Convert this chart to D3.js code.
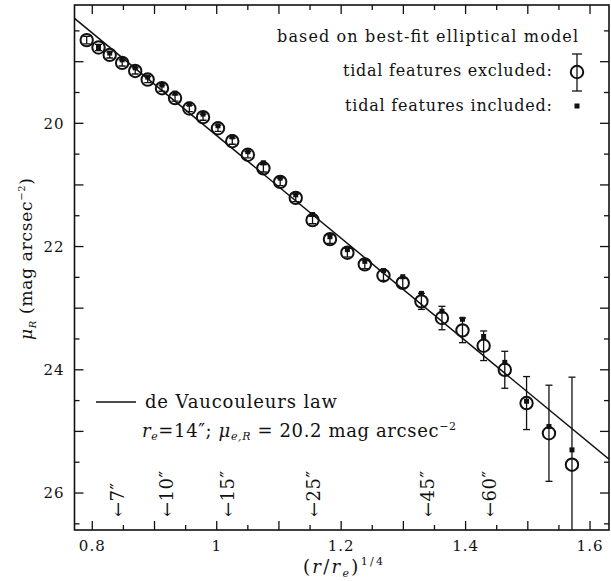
<!DOCTYPE html>
<html>
<head>
<meta charset="utf-8">
<script src="https://cdn.jsdelivr.net/npm/d3@7"></script>
<style>
  body { margin: 0; background: #fff; }
  svg text { font-family: "DejaVu Serif", serif; fill: #111; }
</style>
</head>
<body>
<div id="chart"></div>
<script>
// (r/re)^1/4 of each annulus
var radii = [0.791, 0.810, 0.828, 0.848, 0.869, 0.889, 0.912, 0.933, 0.956, 0.978,
             1.002, 1.025, 1.050, 1.075, 1.102, 1.127, 1.154, 1.182, 1.210, 1.238,
             1.268, 1.299, 1.329, 1.362, 1.395, 1.429, 1.463, 1.498, 1.534, 1.571];
// tidal features excluded (circles)
var muExcl = [18.65, 18.77, 18.89, 19.02, 19.15, 19.29, 19.43, 19.59, 19.76, 19.90,
              20.08, 20.29, 20.51, 20.73, 20.95, 21.21, 21.57, 21.88, 22.10, 22.29,
              22.47, 22.59, 22.89, 23.16, 23.36, 23.61, 24.00, 24.54, 25.03, 25.54];
var errExcl = [0.06, 0.05, 0.05, 0.05, 0.05, 0.05, 0.05, 0.05, 0.05, 0.05,
               0.05, 0.05, 0.05, 0.06, 0.06, 0.06, 0.06, 0.07, 0.07, 0.07,
               0.08, 0.08, 0.13, 0.19, 0.20, 0.24, 0.30, 0.43, 0.78, 1.42];
// tidal features included (filled squares)
var muIncl = [null, 18.77, 18.86, 18.97, 19.10, 19.25, 19.38, 19.51, 19.69, 19.85,
              20.04, 20.22, 20.46, 20.64, 20.89, 21.16, 21.48, 21.84, 22.05, 22.24,
              22.39, 22.49, 22.76, 23.05, 23.18, 23.46, 23.88, 24.51, 24.92, 25.30];
// de Vaucouleurs law, end points of the drawn line
var lawX = [0.7714, 1.6305];
var lawMu = [18.297, 25.45];
// radius markers (arcsec) and their positions
var markerLabels = ["7″", "10″", "15″", "25″", "45″", "60″"];
var markerX = [0.841, 0.919, 1.017, 1.156, 1.339, 1.439];
var xTicks = [0.8, 1, 1.2, 1.4, 1.6];
var yTicks = [20, 22, 24, 26];

var W = 611, H = 581;
var margin = {top: 5, right: 2, bottom: 51, left: 74.5};
var width = W - margin.left - margin.right;
var height = H - margin.top - margin.bottom;

var x = d3.scaleLinear().domain([0.7714, 1.6305]).range([0, width]);
var y = d3.scaleLinear().domain([18.08, 26.6]).range([0, height]);

var svg = d3.select('#chart').append('svg')
    .attr('width', W).attr('height', H);
var g = svg.append('g')
    .attr('transform', 'translate(' + margin.left + ',' + margin.top + ')');

var clip = svg.append('clipPath').attr('id', 'plotclip');
clip.append('rect').attr('width', width).attr('height', height);

// frame
g.append('rect')
    .attr('width', width).attr('height', height)
    .attr('fill', 'none').attr('stroke', '#111').attr('stroke-width', 1.6);

// ticks pointing inward on all four sides
var xMinor = d3.range(0.80, 1.63, 0.05);
var yMinor = d3.range(18.5, 26.6, 0.5);
function isMajor(v, step) { return Math.abs(v / step - Math.round(v / step)) < 1e-6; }

var tk = g.append('g').attr('stroke', '#111').attr('stroke-width', 1.3);
xMinor.forEach(function(v) {
    var len = isMajor(v, 0.1) ? 9 : 5;
    tk.append('line').attr('x1', x(v)).attr('x2', x(v)).attr('y1', height).attr('y2', height - len);
    tk.append('line').attr('x1', x(v)).attr('x2', x(v)).attr('y1', 0).attr('y2', len);
});
yMinor.forEach(function(v) {
    var len = isMajor(v, 1) ? 9 : 5;
    tk.append('line').attr('y1', y(v)).attr('y2', y(v)).attr('x1', 0).attr('x2', len);
    tk.append('line').attr('y1', y(v)).attr('y2', y(v)).attr('x1', width).attr('x2', width - len);
});

// tick labels
g.append('g').selectAll('text').data(xTicks).enter().append('text')
    .attr('x', function(d) { return x(d); })
    .attr('y', height + 21)
    .attr('text-anchor', 'middle')
    .attr('font-size', 15)
    .attr('letter-spacing', 1)
    .text(function(d) { return d === 1 ? '1' : d3.format('.1f')(d); });

g.append('g').selectAll('text').data(yTicks).enter().append('text')
    .attr('x', -10)
    .attr('y', function(d) { return y(d); })
    .attr('dy', '0.36em')
    .attr('text-anchor', 'end')
    .attr('font-size', 15)
    .attr('letter-spacing', 1)
    .text(function(d) { return d; });

// axis titles
var xl = g.append('text')
    .attr('x', 303 - margin.left).attr('y', height + 43)
    .attr('font-size', 18)
    .attr('textLength', 80);
xl.append('tspan').text('(');
xl.append('tspan').attr('font-style', 'italic').text('r');
xl.append('tspan').text('/');
xl.append('tspan').attr('font-style', 'italic').text('r');
xl.append('tspan').attr('font-style', 'italic').attr('font-size', 11).attr('dy', 4).text('e');
xl.append('tspan').attr('dy', -4).text(')');
xl.append('tspan').attr('font-size', 11).attr('dy', -8).text('1/4');

var yl = svg.append('text')
    .attr('transform', 'translate(32,340) rotate(-90)')
    .attr('font-size', 17)
    .attr('textLength', 162);
yl.append('tspan').attr('font-style', 'italic').text('μ');
yl.append('tspan').attr('font-style', 'italic').attr('font-size', 10).attr('dy', 4).text('R');
yl.append('tspan').attr('dy', -4).text(' (mag arcsec');
yl.append('tspan').attr('font-size', 10).attr('dy', -7).text('−2');
yl.append('tspan').attr('dy', 7).text(')');

var plot = g.append('g').attr('clip-path', 'url(#plotclip)');

// de Vaucouleurs line
plot.append('path')
    .datum(lawX.map(function(v, i) { return [v, lawMu[i]]; }))
    .attr('fill', 'none').attr('stroke', '#111').attr('stroke-width', 1.5)
    .attr('d', d3.line().x(function(d) { return x(d[0]); }).y(function(d) { return y(d[1]); }));

var pts = radii.map(function(r, i) {
    return {x: r, mu: muExcl[i], err: errExcl[i], inc: muIncl[i]};
});

// error bars
var eb = plot.append('g').attr('stroke', '#111').attr('stroke-width', 1.3);
pts.forEach(function(d) {
    var cx = x(d.x);
    eb.append('line').attr('x1', cx).attr('x2', cx)
        .attr('y1', y(d.mu - d.err)).attr('y2', y(d.mu + d.err));
    [d.mu - d.err, d.mu + d.err].forEach(function(v) {
        eb.append('line').attr('x1', cx - 3.5).attr('x2', cx + 3.5)
            .attr('y1', y(v)).attr('y2', y(v));
    });
});

// circles
plot.append('g').selectAll('circle').data(pts).enter().append('circle')
    .attr('cx', function(d) { return x(d.x); })
    .attr('cy', function(d) { return y(d.mu); })
    .attr('r', 6.2)
    .attr('fill', 'none').attr('stroke', '#111').attr('stroke-width', 2);

// squares
var sq = 5;
plot.append('g').selectAll('rect').data(pts.filter(function(d) { return d.inc !== null; }))
    .enter().append('rect')
    .attr('x', function(d) { return x(d.x) - sq / 2; })
    .attr('y', function(d) { return y(d.inc) - sq / 2; })
    .attr('width', sq).attr('height', sq)
    .attr('fill', '#111');

// radius markers
g.append('g').selectAll('text').data(markerX).enter().append('text')
    .attr('transform', function(d) { return 'translate(' + x(d) + ',' + (height - 13) + ') rotate(-90)'; })
    .attr('dy', '0.36em')
    .attr('font-size', 18)
    .attr('letter-spacing', 0.5)
    .text(function(d, i) { return '←' + markerLabels[i]; });

// legend, upper right
var lg = svg.append('g');
lg.append('text').attr('x', 277).attr('y', 42).attr('font-size', 16)
    .attr('textLength', 301).text('based on best-fit elliptical model');
lg.append('text').attr('x', 343).attr('y', 76).attr('font-size', 16)
    .attr('textLength', 209).text('tidal features excluded:');
lg.append('text').attr('x', 345).attr('y', 111).attr('font-size', 16)
    .attr('textLength', 207).text('tidal features included:');
var lx = 577, ly = 72;
lg.append('line').attr('x1', lx).attr('x2', lx).attr('y1', ly - 18).attr('y2', ly + 19)
    .attr('stroke', '#111').attr('stroke-width', 1.3);
[ly - 18, ly + 19].forEach(function(v) {
    lg.append('line').attr('x1', lx - 5).attr('x2', lx + 5).attr('y1', v).attr('y2', v)
        .attr('stroke', '#111').attr('stroke-width', 1.3);
});
lg.append('circle').attr('cx', lx).attr('cy', ly).attr('r', 6.2)
    .attr('fill', 'none').attr('stroke', '#111').attr('stroke-width', 2);
lg.append('rect').attr('x', lx - 2.5).attr('y', 106 - 2.5).attr('width', 5).attr('height', 5).attr('fill', '#111');

// law legend, lower left
var ll = svg.append('g');
ll.append('line').attr('x1', 96).attr('x2', 136).attr('y1', 402).attr('y2', 402)
    .attr('stroke', '#111').attr('stroke-width', 1.5);
ll.append('text').attr('x', 145).attr('y', 408).attr('font-size', 18)
    .attr('textLength', 192).text('de Vaucouleurs law');
var lt = ll.append('text').attr('x', 142).attr('y', 437).attr('font-size', 18)
    .attr('textLength', 314);
lt.append('tspan').attr('font-style', 'italic').text('r');
lt.append('tspan').attr('font-style', 'italic').attr('font-size', 11).attr('dy', 3).text('e');
lt.append('tspan').attr('dy', -3).text('=14″; ');
lt.append('tspan').attr('font-style', 'italic').text('μ');
lt.append('tspan').attr('font-style', 'italic').attr('font-size', 11).attr('dy', 3).text('e,R');
lt.append('tspan').attr('dy', -3).text(' = 20.2 mag arcsec');
lt.append('tspan').attr('font-size', 11).attr('dy', -7).text('−2');
</script>
</body>
</html>
